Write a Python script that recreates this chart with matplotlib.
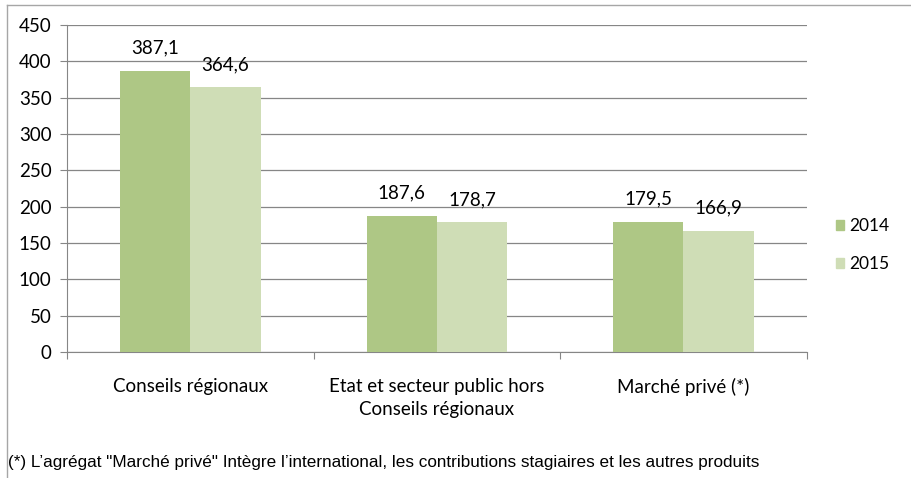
import matplotlib.pyplot as plt
from matplotlib.lines import Line2D
import numpy as np

categories = ["Conseils régionaux", "Etat et secteur public hors\nConseils régionaux", "Marché privé (*)"]
years = ["2014", "2015"]
v2014 = [387.1, 187.6, 179.5]
v2015 = [364.6, 178.7, 166.9]
colors = ["#AEC785", "#CFDDB6"]

plt.rcParams['font.family'] = ['Lato', 'DejaVu Sans']
fs = 13.5

fig = plt.figure(figsize=(9.11, 4.78), dpi=100)
ax = fig.add_axes([0.0735, 0.2636, 0.812, 0.6841])

x = np.arange(len(categories))
w = 0.285
b1 = ax.bar(x - w / 2, v2014, w, color=colors[0], label=years[0], zorder=3)
b2 = ax.bar(x + w / 2, v2015, w, color=colors[1], label=years[1], zorder=3)

for bars, vals in ((b1, v2014), (b2, v2015)):
    for r, v in zip(bars, vals):
        ax.text(r.get_x() + r.get_width() / 2, v + 31, f"{v:.1f}".replace(".", ","),
                ha="center", va="center", fontsize=fs)

ax.set_xlim(-0.5, 2.5)
ax.set_ylim(0, 450)
ax.set_yticks(np.arange(0, 451, 50))
ax.yaxis.grid(True, color="#868686", lw=0.9, zorder=0)
ax.set_xticks(np.arange(-0.5, 2.6, 1))
ax.set_xticklabels([])
ax.set_xticks(x, minor=True)
ax.set_xticklabels(categories, minor=True, fontsize=fs, linespacing=1.4)
ax.tick_params(axis="x", which="minor", length=0, pad=19)
ax.tick_params(axis="x", which="major", length=5, color="#868686", direction="out")
ax.tick_params(axis="y", length=5, color="#868686", labelsize=fs, pad=6)
for s in ("top", "right"):
    ax.spines[s].set_visible(False)
for s in ("left", "bottom"):
    ax.spines[s].set_color("#868686")

handles = [plt.Rectangle((0, 0), 1, 1, color=c) for c in colors]
fig.legend(handles, years, loc="center left", bbox_to_anchor=(0.9, 0.487),
           frameon=False, fontsize=12.5, handlelength=0.5, handleheight=0.5,
           handletextpad=0.3, labelspacing=1.25)

fig.text(0.009, 0.022, "(*) L\u2019agrégat \"Marché privé\" Intègre l\u2019international, les contributions stagiaires et les autres produits",
         fontsize=12.3, family=['Liberation Sans', 'DejaVu Sans'])

# figure border (top and left visible)
fig.add_artist(Line2D([0.0075, 0.0075], [0, 0.99], transform=fig.transFigure, color="#A6A6A6", lw=1))
fig.add_artist(Line2D([0.0075, 1], [0.99, 0.99], transform=fig.transFigure, color="#A6A6A6", lw=1))

fig.savefig("out.png", dpi=100)
